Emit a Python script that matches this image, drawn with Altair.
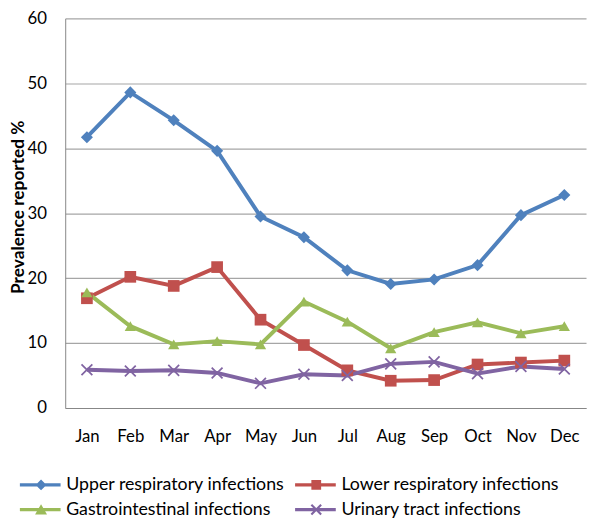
import altair as alt
import pandas as pd

months = ["Jan", "Feb", "Mar", "Apr", "May", "Jun", "Jul", "Aug", "Sep", "Oct", "Nov", "Dec"]
series_names = [
    "Upper respiratory infections",
    "Lower respiratory infections",
    "Gastrointestinal infections",
    "Urinary tract infections",
]
upper = [41.7, 48.6, 44.3, 39.6, 29.5, 26.3, 21.2, 19.1, 19.8, 22.0, 29.7, 32.8]
lower = [16.9, 20.2, 18.8, 21.7, 13.6, 9.7, 5.8, 4.2, 4.3, 6.7, 7.0, 7.3]
gastro = [17.8, 12.6, 9.8, 10.3, 9.8, 16.4, 13.3, 9.2, 11.7, 13.2, 11.5, 12.6]
urinary = [5.9, 5.7, 5.8, 5.4, 3.8, 5.2, 5.0, 6.8, 7.1, 5.3, 6.4, 6.0]
y_ticks = [0, 10, 20, 30, 40, 50, 60]

colors = ["#4F81BD", "#C0504D", "#9BBB59", "#8064A2"]

# marker shapes in the plot (X marker as a filled custom path)
X_PATH = ("M-0.887,-1.113L1.113,0.887L0.887,1.113L-1.113,-0.887Z "
          "M1.113,-0.887L-0.887,1.113L-1.113,0.887L0.887,-1.113Z")
point_shapes = ["diamond", "square", "triangle-up", X_PATH]
point_sizes = [150, 121, 190, 150]

# legend symbols: short line with the marker in its middle
LINE = "M-0.9,-0.3H6.6V0.3H-0.9Z "
legend_shapes = [
    LINE + "M3,-1L4,0L3,1L2,0Z",
    LINE + "M2.1,-0.9H3.9V0.9H2.1Z",
    LINE + "M3,-1L4.1,0.9H1.9Z",
    LINE + "M2.24,-1.04L4.04,0.76L3.76,1.04L1.96,-0.76Z M4.04,-0.76L2.24,1.04L1.96,0.76L3.76,-1.04Z",
]

series_values = [upper, lower, gastro, urinary]
rows = []
for name, vals in zip(series_names, series_values):
    for i, (m, v) in enumerate(zip(months, vals)):
        rows.append({"series": name, "month": m, "mi": i, "value": v})
df = pd.DataFrame(rows)

FONT = "Lato"

x_enc = alt.X(
    "month:N",
    sort=months,
    scale=alt.Scale(type="point", padding=0.5),
    axis=alt.Axis(
        title=None, labelAngle=0, ticks=False, tickSize=0, labelPadding=21,
        grid=False, domainColor="#868686", domainWidth=1,
    ),
)
y_enc = alt.Y(
    "value:Q",
    scale=alt.Scale(domain=[0, 60], nice=False),
    axis=alt.Axis(
        values=y_ticks, title="Prevalence reported %", titleFontWeight="bold",
        titleFontSize=17.5, titleX=-38, titleY=191, titleBaseline="bottom",
        titleAngle=270,
        ticks=False, tickSize=0, labelPadding=19, grid=True,
        gridColor="#A6A6A6", gridWidth=1.2, domainColor="#868686",
    ),
)

cscale = alt.Scale(domain=series_names, range=colors)

base = alt.Chart(df)

lines = base.mark_line(strokeWidth=4).encode(
    x=x_enc,
    y=y_enc,
    color=alt.Color("series:N", scale=cscale, legend=None),
    order=alt.Order("mi:Q"),
)

points = base.mark_point(filled=True, opacity=1, strokeWidth=0).encode(
    x=x_enc,
    y=y_enc,
    color=alt.Color("series:N", scale=cscale, legend=None),
    shape=alt.Shape("series:N", scale=alt.Scale(domain=series_names, range=point_shapes), legend=None),
    size=alt.Size("series:N", scale=alt.Scale(domain=series_names, range=point_sizes), legend=None),
)

leg = alt.Legend(
    title=None, orient="none", legendX=-50, legendY=464, columns=2,
    direction="horizontal",
    columnPadding=6, rowPadding=7, labelFontSize=18, labelFont=FONT,
    labelColor="black", symbolSize=121, symbolStrokeWidth=0, labelOffset=33,
    labelLimit=400,
)

legend_layer = base.mark_point(filled=True, opacity=1, size=121).encode(
    x=x_enc,
    y=y_enc,
    color=alt.Color("series:N", scale=cscale, legend=leg),
    shape=alt.Shape("series:N", scale=alt.Scale(domain=series_names, range=legend_shapes), legend=leg),
).transform_filter("false")

chart = (
    alt.layer(lines, points, legend_layer)
    .resolve_scale(color="independent", shape="independent")
    .properties(
        width=528, height=395,
        autosize=alt.AutoSizeParams(type="none"),
        padding={"left": 58, "top": 7, "right": 2, "bottom": 109},
    )
    .configure_axis(labelFont=FONT, labelFontSize=17, labelColor="black",
                    titleFont=FONT, titleColor="black")
    .configure_view(stroke=None)
)

chart.save("out.html", embed_options={"renderer": "svg", "actions": False})
